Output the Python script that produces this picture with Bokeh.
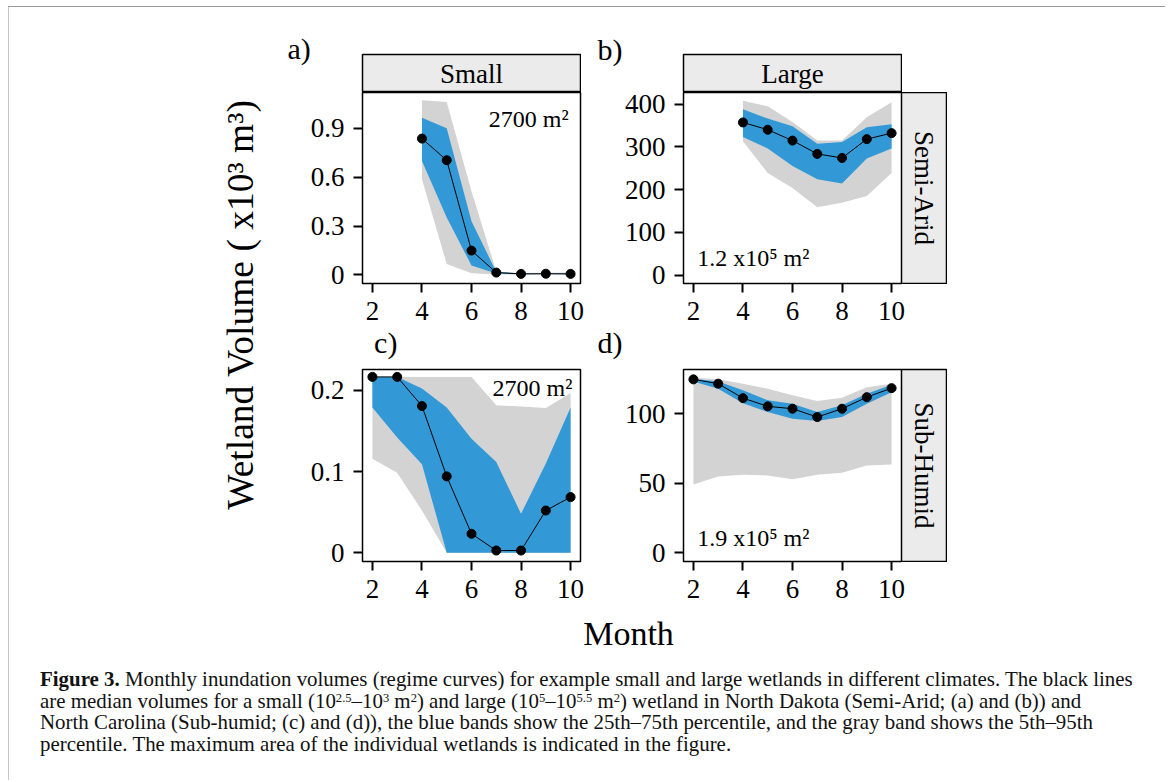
import math
from bokeh.plotting import figure
from bokeh.models import Range1d, FixedTicker, Spacer, Div
from bokeh.layouts import row, column
from bokeh.core.properties import value
from bokeh.embed import file_html
from bokeh.resources import INLINE

# ---------------- data ----------------
month_ticks = [2, 4, 6, 8, 10]

months_a = [4, 5, 6, 7, 8, 9, 10]
med_a = [0.837, 0.704, 0.149, 0.014, 0.006, 0.007, 0.006]
q25_a = [0.700, 0.353, 0.057, 0.008, 0.004, 0.005, 0.004]
q75_a = [0.965, 0.900, 0.330, 0.018, 0.008, 0.009, 0.009]
q05_a = [0.588, 0.067, 0.010, 0.002, 0.002, 0.003, 0.003]
q95_a = [1.072, 1.061, 0.514, 0.020, 0.012, 0.013, 0.014]

months_b = [4, 5, 6, 7, 8, 9, 10]
med_b = [357, 340, 314.6, 283.5, 274, 318, 332]
q25_b = [323, 296, 255, 224, 214.5, 272.7, 296]
q75_b = [388, 366, 348, 307, 311, 346, 353]
q05_b = [313, 239, 204, 159, 169, 185, 239]
q95_b = [408, 394.6, 358, 314.6, 315, 369, 404]

months_c = [2, 3, 4, 5, 6, 7, 8, 9, 10]
med_c = [0.2164, 0.2164, 0.1806, 0.094, 0.0234, 0.0028, 0.0028, 0.052, 0.0685]
q25_c = [0.1786, 0.1417, 0.1088, 0, 0, 0, 0, 0, 0]
q75_c = [0.2164, 0.2164, 0.202, 0.1786, 0.1404, 0.1116, 0.048, 0.110, 0.1786]
q05_c = [0.1158, 0.0986, 0.052, 0, 0, 0, 0, 0, 0]
q95_c = [0.2164, 0.2164, 0.2164, 0.2164, 0.2164, 0.1815, 0.180, 0.178, 0.1966]

months_d = [2, 3, 4, 5, 6, 7, 8, 9, 10]
med_d = [124.7, 121.6, 111.2, 105.3, 103.6, 97.6, 103.6, 111.9, 118.4]
q25_d = [123.2, 118.0, 107.6, 101.2, 96.4, 94.7, 97.6, 107.2, 115.5]
q75_d = [125.2, 123.2, 116.8, 109.6, 107.2, 101.2, 106.0, 114.4, 120.9]
q05_d = [49.1, 54.9, 56.1, 55.6, 52.9, 56.1, 57.5, 62.8, 63.5]
q95_d = [125.9, 124.7, 121.6, 118.0, 113.2, 109.1, 111.5, 119.1, 121.6]

yticks_a = [0, 0.3, 0.6, 0.9]
yticks_b = [0, 100, 200, 300, 400]
yticks_c = [0, 0.1, 0.2]
yticks_d = [0, 50, 100]

col_labels = ["Small", "Large"]
row_labels = ["Semi-Arid", "Sub-Humid"]
panel_tags = ["a)", "b)", "c)", "d)"]
areas = ["2700 m\u00b2", "1.2 x10\u2075 m\u00b2", "2700 m\u00b2", "1.9 x10\u2075 m\u00b2"]
y_title = "Wetland Volume ( x10\u00b3 m\u00b3)"
x_title = "Month"
caption_lines = [
    "<b>Figure 3.</b> Monthly inundation volumes (regime curves) for example small and large "
    "wetlands in different climates. The black lines",
    "are median volumes for a small (10<sup>2.5</sup>&ndash;10<sup>3</sup> m<sup>2</sup>) and large "
    "(10<sup>5</sup>&ndash;10<sup>5.5</sup> m<sup>2</sup>) wetland in North Dakota (Semi-Arid; (a) and (b)) and",
    "North Carolina (Sub-humid; (c) and (d)), the blue bands show the 25th&ndash;75th percentile, "
    "and the gray band shows the 5th&ndash;95th",
    "percentile. The maximum area of the individual wetlands is indicated in the figure.",
]

# ---------------- style ----------------
SERIF = "Liberation Serif"
BLUE = "#3399d6"
GRAY = "#d3d3d3"
STRIP = "#ebebeb"


def canvas(w, h):
    f = figure(width=w, height=h, x_range=Range1d(0, w), y_range=Range1d(0, h),
               x_axis_type=None, y_axis_type=None, output_backend="svg",
               toolbar_location=None, min_border=0)
    f.grid.visible = False
    f.outline_line_color = None
    f.background_fill_alpha = 0
    f.border_fill_alpha = 0
    return f


def label_fig(w, h, txt, x, y, size="30px"):
    f = canvas(w, h)
    f.text(x=[x], y=[y], text=[txt], text_font=value(SERIF), text_font_size=size,
           text_align="left", text_baseline="middle", text_color="black")
    return f


def strip(w, h, txt, angle, bl, br, bt, bb):
    s = figure(width=w, height=h, x_range=Range1d(0, 1), y_range=Range1d(0, 1),
               x_axis_type=None, y_axis_type=None, output_backend="svg",
               toolbar_location=None, min_border_left=bl, min_border_right=br,
               min_border_top=bt, min_border_bottom=bb)
    s.grid.visible = False
    s.background_fill_color = STRIP
    s.border_fill_color = "white"
    s.outline_line_color = "black"
    s.outline_line_width = 1.5
    s.text(x=[0.5], y=[0.5], text=[txt], angle=angle, text_font=value(SERIF),
           text_font_size="27px", text_align="center", text_baseline="middle",
           text_color="black")
    return s


def panel(months, med, q05, q25, q75, q95, yr, yticks, ann, ax, ay, align,
          w, h, bl, br, bt, bb):
    p = figure(width=w, height=h, x_range=Range1d(1.6, 10.4), y_range=Range1d(*yr),
               output_backend="svg", toolbar_location=None,
               min_border_left=bl, min_border_right=br,
               min_border_top=bt, min_border_bottom=bb)
    p.grid.visible = False
    p.border_fill_alpha = 0
    p.varea(x=months, y1=q05, y2=q95, fill_color=GRAY)
    p.varea(x=months, y1=q25, y2=q75, fill_color=BLUE)
    p.line(x=months, y=med, line_color="black", line_width=1)
    p.scatter(x=months, y=med, size=9, fill_color="black", line_color="black")
    p.text(x=[ax], y=[ay], text=[ann], text_font=value(SERIF), text_font_size="24px",
           text_align=align, text_baseline="middle", text_color="black")
    p.xaxis.ticker = FixedTicker(ticks=month_ticks)
    p.yaxis.ticker = FixedTicker(ticks=yticks)
    p.yaxis.major_label_overrides = {0: "0"}
    for a in (p.xaxis[0], p.yaxis[0]):
        a.axis_line_color = None
        a.minor_tick_line_color = None
        a.major_tick_in = 0
        a.major_tick_out = 9
        a.major_tick_line_width = 2
        a.major_tick_line_color = "black"
        a.major_label_text_font = SERIF
        a.major_label_text_font_size = "27px"
        a.major_label_text_color = "black"
    p.xaxis.major_label_standoff = 9
    p.yaxis.major_label_standoff = 9
    p.outline_line_color = "black"
    p.outline_line_width = 1.5
    p.outline_line_alpha = 1.0
    return p


# ---------------- panels ----------------
pa = panel(months_a, med_a, q05_a, q25_a, q75_a, q95_a, (-0.053, 1.12), yticks_a,
           areas[0], 9.92, 0.957, "right", 320, 240, 92, 10, 0, 49)
pb = panel(months_b, med_b, q05_b, q25_b, q75_b, q95_b, (-19.5, 427), yticks_b,
           areas[1], 2.15, 40.3, "left", 317, 248, 93, 6, 8, 49)
pc = panel(months_c, med_c, q05_c, q25_c, q75_c, q95_c, (-0.0107, 0.2255), yticks_c,
           areas[2], 10.07, 0.2024, "right", 320, 243, 92, 10, 1, 50)
pd_ = panel(months_d, med_d, q05_d, q25_d, q75_d, q95_d, (-6.3, 131.8), yticks_d,
            areas[3], 2.15, 10.3, "left", 317, 243, 93, 6, 1, 50)

# ---------------- strips & labels ----------------
s_small = strip(220, 39, col_labels[0], 0, 1, 1, 1, 0)
s_large = strip(220, 39, col_labels[1], 0, 1, 1, 1, 0)
s_semi = strip(46, 192, row_labels[0], -math.pi / 2, 0, 1, 0, 1)
s_sub = strip(46, 194, row_labels[1], -math.pi / 2, 0, 1, 1, 1)

lab_a = label_fig(91, 85, panel_tags[0], 17, 43.8)
lab_b = label_fig(92, 85, panel_tags[1], 7, 43.5)
lab_c = label_fig(320, 42, panel_tags[2], 17, 26.5)
lab_d = label_fig(317, 42, panel_tags[3], 7, 26.5)

top_a = row(lab_a, column(Spacer(width=220, height=46), s_small), Spacer(width=9, height=85))
top_b = row(lab_b, column(Spacer(width=220, height=46), s_large))
cell_a = column(top_a, pa)
cell_b = column(top_b,
                row(pb, column(Spacer(width=46, height=8), s_semi, Spacer(width=46, height=48),
                               margin=(0, 0, 0, -6)),
                    margin=(-8, 0, 0, 0)))
cell_c = column(lab_c, pc)
cell_d = column(lab_d, row(pd_, column(s_sub, Spacer(width=46, height=49), margin=(0, 0, 0, -6))))

row1 = row(cell_a, cell_b)
row2 = row(cell_c, cell_d, margin=(-6, 0, 0, 0))

month_fig = canvas(677, 50)
month_fig.margin = (-6, 0, 0, 0)
month_fig.text(x=[358], y=[21.9], text=[x_title], text_font=value(SERIF), text_font_size="34px",
               text_align="center", text_baseline="middle", text_color="black")

ylab = canvas(261, 648)
ylab.text(x=[231], y=[351], text=[y_title], angle=math.pi / 2, text_font=value(SERIF),
          text_font_size="37.5px", text_align="center", text_baseline="middle",
          text_color="black")

grid_col = column(row1, row2, month_fig)
main_row = row(ylab, grid_col)

caption_html = "".join("<div style='white-space:nowrap'>%s</div>" % ln for ln in caption_lines)
caption_html = caption_html.replace(
    "<sup>", "<sup style='font-size:0.6em;vertical-align:0.5em;line-height:0'>")
caption = Div(text=caption_html, width=1155, height=125,
              styles={"font-family": "'Liberation Serif', serif", "font-size": "20.9px",
                      "line-height": "21.7px", "color": "#111", "padding-left": "26px",
                      "padding-top": "9px", "white-space": "nowrap",
                      "box-sizing": "border-box"})

content = column(main_row, caption)

top_line = Spacer(width=1157, height=1, styles={"background-color": "#9a9a9a"})
left_line = Spacer(width=1, height=773, styles={"background-color": "#c8c8c8"})
right_line = Spacer(width=1, height=773, styles={"background-color": "#c8c8c8"})

framed = column(top_line, row(left_line, content, right_line))
page = column(Spacer(width=1165, height=6), row(Spacer(width=8, height=774), framed))

open("out.html", "w").write(file_html(page, INLINE))
